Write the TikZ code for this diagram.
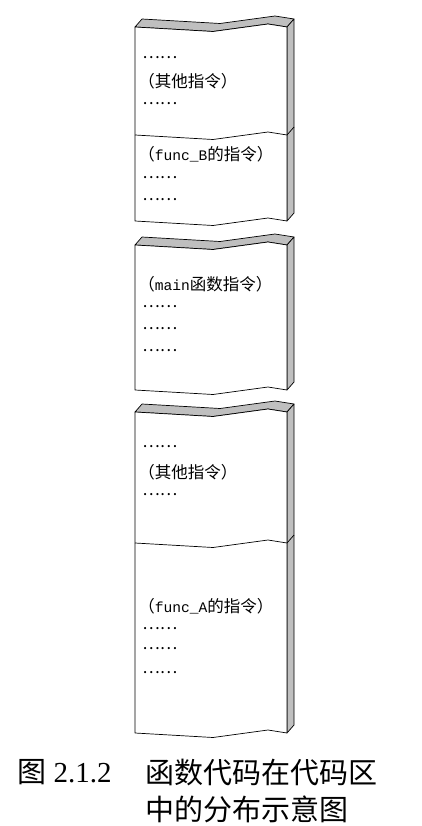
\documentclass[tikz,border=0pt]{standalone}
\usepackage{fontspec}
\setmainfont{Liberation Serif}
\newfontfamily\cjk{Noto Sans CJK SC}
\newfontfamily\codefont{Liberation Mono}
\newcommand\codetxt[1]{{\codefont\fontsize{14.6pt}{18pt}\selectfont #1}}
\usepackage{tikz}
\usetikzlibrary{positioning}

\begin{document}
\begin{tikzpicture}[
  x=1pt, y=-1pt,
  line width=0.7pt, line join=round,
  front/.style={draw,fill=white},
  slab/.style={draw,fill=black!25},
  instr/.style={anchor=west,inner sep=0pt,font=\cjk\fontsize{16.5pt}{19pt}\selectfont},
  capt/.style={anchor=west,inner sep=0pt,font=\fontsize{29pt}{34pt}\selectfont}
]
  \useasboundingbox (0,0) rectangle (421,826);

  % the three pieces of the code area
  \foreach \t/\b in {27/221, 245/390, 412/733} {
    \draw[slab] (135,\t) -- (213,\t+4.5) -- (268,\t-3) -- (287,\t) -- (294,\t-8)
      -- (275,\t-11) -- (220,\t-3.5) -- (142,\t-8) -- cycle;
    \draw[slab] (287,\t) -- (294,\t-8) -- (294,\b-8) -- (287,\b) -- cycle;
    \draw[front] (135,\t) -- (213,\t+4.5) -- (268,\t-3) -- (287,\t) -- (287,\b)
      -- (268,\b-3) -- (213,\b+4.5) -- (135,\b) -- cycle;
  }
  % dividers
  \foreach \d in {135, 543}
    \draw (135,\d) -- (213,\d+4.5) -- (268,\d-3) -- (287,\d) -- (294,\d-8);

  % block 1
  \node[instr] (a1) at (142,58) {……};
  \node[instr] (a2) at (138,81) {（其他指令）};
  \node[instr] (a3) at (142,104) {……};
  \node[instr] (b1) at (138,154) {（\codetxt{func\_B}的指令）};
  \node[instr] (b2) at (142,177.5) {……};
  \node[instr] (b3) at (142,200) {……};

  % block 2
  \node[instr] (m1) at (138,284) {（\codetxt{main}函数指令）};
  \node[instr] (m2) at (142,306.5) {……};
  \node[instr] (m3) at (142,329) {……};
  \node[instr] (m4) at (142,351) {……};

  % block 3
  \node[instr] (c1) at (142,447) {……};
  \node[instr] (c2) at (138,472) {（其他指令）};
  \node[instr] (c3) at (142,495) {……};
  \node[instr] (d1) at (138,606) {（\codetxt{func\_A}的指令）};
  \node[instr] (d2) at (142,628.5) {……};
  \node[instr] (d3) at (142,649) {……};
  \node[instr] (d4) at (142,673) {……};

  % caption
  \node[capt] (fig) at (17,772) {{\cjk 图} 2.1.2};
  \node[capt] (cap1) at (145,772) {\cjk 函数代码在代码区};
  \node[capt] (cap2) at (145,809) {\cjk 中的分布示意图};
\end{tikzpicture}
\end{document}
